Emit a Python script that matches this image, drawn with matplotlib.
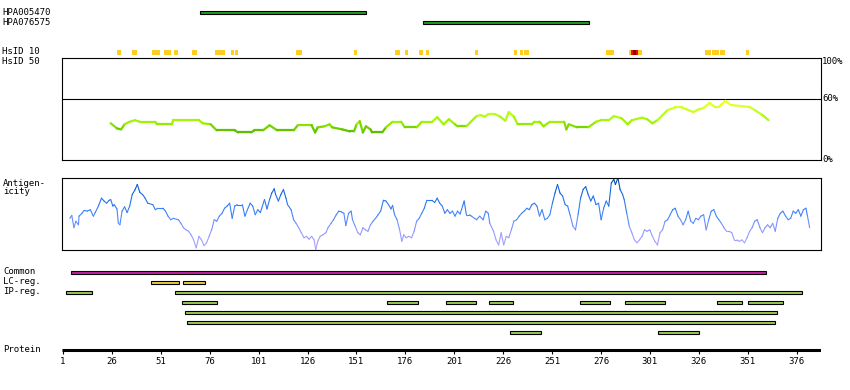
import numpy as np
import matplotlib
matplotlib.use("Agg")
import matplotlib.pyplot as plt
from matplotlib.collections import LineCollection
from matplotlib.colors import LinearSegmentedColormap, Normalize

W, H = 850, 390
PROTEIN_LEN = 388
FONT = "DejaVu Sans Mono"

# antibodies (residue ranges)
antibody_names = ["HPA005470", "HPA076575"]
antibody_start = [71, 185]
antibody_end = [156, 270]

# HsID 10 blocks
hsid10_start = [28.5, 36.5, 46.5, 52.5, 57.5, 67.0, 78.5, 87.0, 89.0, 120.0,
                150.0, 170.5, 176.0, 183.0, 186.5, 211.5, 231.5, 234.5, 236.5, 278.5,
                290.5, 329.0, 333.0, 337.0, 350.0]
hsid10_end = [30.5, 39.0, 50.5, 56.0, 60.0, 69.5, 84.0, 88.5, 90.5, 123.0,
              151.5, 173.5, 177.5, 185.0, 188.0, 213.0, 233.0, 236.0, 239.0, 282.5,
              297.0, 332.5, 336.5, 339.5, 351.5]
hsid10_red = (291.3, 294.9)
hsid10_darkred = (292.3, 293.8)

# HsID 50 (% identity)
hs50_pos = [25.4, 28.6, 30.7, 32.5, 35.1, 37.7, 40.3, 48.2, 49.0, 56.6,
            57.4, 70.5, 72.5, 76.5, 79.6, 88.8, 90.6, 97.2, 98.8, 103.2,
            106.6, 110.6, 118.9, 121.0, 128.1, 129.9, 131.2, 134.6, 137.3, 138.6,
            143.8, 147.7, 149.8, 151.1, 152.7, 154.3, 155.9, 158.2, 159.0, 164.2,
            166.1, 169.5, 173.9, 175.7, 181.8, 184.4, 189.7, 192.3, 195.6, 198.3,
            201.4, 202.7, 207.2, 212.4, 214.5, 216.6, 218.5, 221.8, 224.5, 227.1,
            228.9, 231.5, 233.4, 240.7, 242.0, 244.6, 246.7, 249.9, 257.2, 258.3,
            259.6, 263.8, 269.5, 273.5, 276.1, 280.0, 282.6, 286.5, 289.7, 291.8,
            297.0, 299.6, 302.3, 304.9, 310.1, 314.0, 317.2, 319.3, 323.2, 325.8,
            328.4, 331.6, 334.2, 336.3, 337.6, 339.7, 342.3, 346.7, 352.0, 354.6,
            358.6, 361.7]
hs50_val = [36, 31, 30, 35, 37.5, 39, 37.5, 37.5, 35, 35,
            39, 39, 36, 35, 29, 29, 27, 27, 29, 29,
            34, 29, 29, 34, 34, 27, 32, 33, 35, 32,
            30, 28, 28, 35, 38, 27, 33, 30, 27, 27,
            32, 37.5, 37.5, 32, 32, 37.5, 37.5, 42, 35, 40,
            35, 33, 33, 43, 44, 42.5, 45, 45, 42.5, 38.5,
            47, 42.5, 35, 35, 37.5, 37.5, 33, 37.5, 37.5, 30,
            35, 32, 32, 37.5, 39, 39, 43, 41, 35, 39,
            41.5, 40, 36, 39, 49, 51.5, 51.5, 50, 47, 49.5,
            51, 56, 52, 52, 54.5, 58, 54, 53, 52, 49,
            44, 39]

# antigenicity (relative score 0-100)
ag_pos = [4.5, 5.5, 6.6, 7.6, 8.9, 9.2, 10.7, 11.8, 13.4, 15.0,
          16.5, 17.5, 19.1, 20.7, 22.0, 23.3, 24.6, 25.4, 26.5, 27.2,
          28.6, 29.3, 30.1, 31.2, 32.5, 33.8, 35.1, 36.4, 37.7, 39.0,
          40.3, 41.7, 43.0, 44.3, 46.9, 48.2, 49.5, 52.1, 53.4, 54.7,
          56.1, 57.4, 60.0, 61.3, 62.6, 63.9, 65.2, 66.5, 67.8, 69.1,
          70.5, 71.8, 73.1, 74.4, 75.7, 77.0, 78.3, 79.6, 80.9, 82.3,
          83.6, 84.9, 86.2, 87.5, 88.8, 90.1, 92.7, 94.0, 95.3, 96.7,
          98.0, 99.3, 100.6, 101.9, 104.0, 105.3, 106.6, 107.7, 109.0, 109.7,
          111.1, 112.4, 113.7, 115.0, 115.8, 117.6, 118.9, 120.2, 121.5, 122.8,
          124.2, 125.5, 126.8, 128.1, 129.4, 130.2, 131.2, 132.5, 133.8, 135.4,
          136.5, 138.0, 139.3, 140.7, 142.0, 143.3, 144.6, 145.6, 147.0, 148.3,
          149.0, 150.4, 151.7, 153.0, 154.3, 155.6, 156.9, 158.2, 159.5, 160.8,
          162.1, 163.4, 164.8, 166.1, 167.4, 168.7, 169.5, 170.5, 171.8, 173.1,
          174.2, 175.2, 176.5, 177.8, 179.2, 180.5, 181.8, 183.1, 184.4, 185.7,
          187.0, 189.6, 191.0, 192.3, 193.6, 194.9, 196.2, 197.5, 198.8, 200.1,
          201.4, 202.7, 204.0, 205.3, 206.1, 207.2, 208.8, 209.8, 211.4, 212.4,
          214.0, 215.8, 217.1, 218.4, 219.2, 221.1, 222.4, 223.7, 225.0, 226.3,
          227.6, 228.9, 230.2, 231.5, 232.9, 234.2, 235.5, 236.8, 238.1, 239.4,
          240.7, 242.0, 243.3, 244.6, 245.9, 247.3, 248.6, 249.9, 251.2, 252.5,
          253.8, 255.1, 256.4, 257.7, 259.0, 260.4, 261.7, 263.0, 264.3, 265.6,
          266.9, 268.2, 269.5, 270.8, 272.1, 273.5, 274.8, 276.1, 277.4, 278.7,
          280.0, 281.3, 282.6, 283.4, 284.7, 285.8, 287.1, 287.9, 289.2, 290.5,
          291.8, 293.1, 294.4, 295.7, 297.0, 298.3, 299.6, 301.0, 302.3, 303.6,
          304.9, 306.2, 307.5, 308.8, 310.1, 311.4, 312.7, 314.0, 315.4, 316.7,
          318.0, 319.3, 320.6, 321.9, 323.2, 324.5, 325.8, 327.1, 328.5, 329.8,
          331.1, 332.4, 333.7, 335.0, 336.3, 337.6, 338.9, 340.2, 341.5, 342.9,
          344.2, 345.5, 346.8, 348.1, 349.4, 350.7, 352.0, 353.3, 354.6, 355.9,
          357.3, 358.6, 359.9, 361.2, 362.5, 363.8, 365.1, 366.4, 367.7, 369.0,
          370.4, 371.7, 373.0, 374.3, 375.6, 376.9, 378.2, 379.5, 380.8, 381.6,
          382.7]
ag_val = [44, 48, 31, 40, 35, 47, 51, 55, 54, 56,
          47, 52, 61, 72, 68, 65, 69, 70, 61, 63,
          57, 37, 35, 54, 60, 52, 61, 77, 83, 91,
          80, 77, 72, 65, 63, 56, 58, 58, 54, 47,
          42, 44, 42, 37, 31, 28, 26, 21, 14, 3,
          19, 14, 6, 10, 19, 28, 42, 40, 47, 51,
          58, 61, 65, 44, 61, 63, 63, 47, 56, 65,
          61, 49, 56, 52, 70, 57, 70, 79, 85, 77,
          68, 77, 84, 72, 63, 56, 42, 37, 31, 24,
          17, 19, 15, 19, 14, 0, 12, 19, 21, 24,
          31, 37, 42, 49, 54, 53, 51, 34, 51, 54,
          42, 33, 24, 21, 31, 28, 26, 35, 40, 44,
          49, 54, 69, 68, 63, 57, 62, 49, 42, 28,
          12, 21, 17, 19, 17, 26, 40, 44, 51, 58,
          69, 69, 66, 72, 65, 61, 51, 56, 51, 54,
          47, 54, 50, 61, 68, 49, 49, 47, 44, 42,
          47, 42, 54, 51, 37, 26, 14, 7, 24, 7,
          19, 17, 28, 40, 42, 47, 51, 54, 58, 56,
          63, 65, 61, 47, 56, 42, 44, 49, 65, 79,
          91, 79, 75, 63, 61, 47, 33, 28, 49, 72,
          84, 88, 77, 68, 75, 63, 65, 42, 58, 68,
          61, 93, 98, 91, 100, 84, 77, 70, 51, 33,
          24, 14, 10, 14, 19, 28, 26, 28, 19, 12,
          7, 24, 28, 40, 42, 49, 56, 58, 47, 42,
          35, 42, 54, 40, 37, 44, 42, 47, 49, 28,
          42, 54, 56, 47, 42, 37, 31, 26, 26, 24,
          14, 14, 12, 14, 10, 17, 26, 31, 40, 42,
          31, 24, 31, 35, 31, 37, 26, 44, 51, 54,
          47, 42, 44, 54, 51, 56, 47, 56, 58, 47,
          31]

# sequence features
common_start, common_end = 4.9, 360.2
lc_start = [46.1, 62.6]
lc_end = [60.1, 73.5]
ip_row = [0, 0, 1, 1, 1, 1, 1, 1, 1, 1, 2, 3, 4, 4]
ip_start = [2.8, 58.5, 61.6, 166.8, 196.9, 218.9, 265.4, 288.3, 335.3, 351.2,
            63.6, 64.6, 229.6, 305.2]
ip_end = [15.8, 378.9, 79.7, 182.3, 211.9, 230.8, 280.4, 308.5, 348.3, 369.2,
          366.2, 365.1, 245.6, 326.3]

tick_pos = list(range(1, 377, 25))


def px_rect(x0, y0, x1, y1):
    return [x0 / W, 1 - y1 / H, (x1 - x0) / W, (y1 - y0) / H]


def colored_line(ax, x, y, cmap, norm, lw):
    pts = np.column_stack([x, y])
    segs = np.stack([pts[:-1], pts[1:]], axis=1)
    lc = LineCollection(segs, cmap=cmap, norm=norm, linewidths=lw,
                        capstyle="round", joinstyle="round")
    lc.set_array((np.asarray(y[:-1]) + np.asarray(y[1:])) / 2)
    ax.add_collection(lc)


def label(text, x_px, y_px, **kw):
    fig.text(x_px / W, 1 - y_px / H, text, family=FONT, fontsize=6.5,
             va="center", **kw)


fig = plt.figure(figsize=(W / 100, H / 100), dpi=100)
xlim = (0.5, PROTEIN_LEN + 0.5)

# track axes: pixel rows on y, residues on x
tr = fig.add_axes(px_rect(62, 0, 821, H))
tr.set_xlim(*xlim)
tr.set_ylim(H, 0)
tr.axis("off")

bar_kw = dict(edgecolor="black", linewidth=0.8, height=3.6)
for i, (s, e) in enumerate(zip(antibody_start, antibody_end)):
    tr.barh(12.3 + 10 * i, e - s, left=s, color="#1f9e1f", **bar_kw)
    label(antibody_names[i], 2, 12.3 + 10 * i)

for s, e in zip(hsid10_start, hsid10_end):
    tr.barh(52.5, e - s, left=s, height=5, color="#ffcc22", linewidth=0)
tr.barh(52.5, hsid10_red[1] - hsid10_red[0], left=hsid10_red[0], height=5,
        color="#dd1111", linewidth=0)
tr.barh(52.5, hsid10_darkred[1] - hsid10_darkred[0], left=hsid10_darkred[0],
        height=5, color="#990000", linewidth=0)

tr.barh(272.5, common_end - common_start, left=common_start, color="#c41fa4", **bar_kw)
for s, e in zip(lc_start, lc_end):
    tr.barh(282.5, e - s, left=s, color="#e6d23c", **bar_kw)
for r, s, e in zip(ip_row, ip_start, ip_end):
    tr.barh(292.5 + 10 * r, e - s, left=s, color="#9ccb56", **bar_kw)

# protein axis
tr.hlines(350, xlim[0], xlim[1], color="black", linewidth=2.2)
tr.vlines(tick_pos, 350, 354, color="black", linewidth=0.8)
for t in tick_pos:
    tr.text(t, 362, str(t), ha="center", va="center", family=FONT, fontsize=6.5)

# HsID 50 panel
hs = fig.add_axes(px_rect(62, 58, 821, 160))
hs.set_xlim(*xlim)
hs.set_ylim(0, 100)
hs.set_facecolor("none")
hs.set_xticks([])
hs.set_yticks([])
for sp in hs.spines.values():
    sp.set_linewidth(0.8)
hs.axhline(60, color="black", linewidth=0.8)
hs_cmap = LinearSegmentedColormap.from_list(
    "hsid", [(0.0, "#55b800"), (0.15, "#66c800"), (0.3, "#99f000"),
             (0.55, "#b8ff18"), (0.8, "#e0ff30"), (1.0, "#ffff30")])
colored_line(hs, hs50_pos, hs50_val, hs_cmap, Normalize(25, 60), 1.6)
for txt, yv in [("100%", 100), ("60%", 60), ("0%", 0)]:
    label(txt, 822, 160 - yv * 1.02 + (3 if yv == 100 else 0))

# antigenicity panel
ag = fig.add_axes(px_rect(62, 178, 821, 250))
ag.set_xlim(*xlim)
ag.set_ylim(0, 100)
ag.set_facecolor("none")
ag.set_xticks([])
ag.set_yticks([])
for sp in ag.spines.values():
    sp.set_linewidth(0.8)
ag_cmap = LinearSegmentedColormap.from_list(
    "antigen", [(0.0, "#b3a6ff"), (0.3, "#8c96ff"), (0.45, "#4a88ff"),
                (0.65, "#2a78f0"), (0.85, "#0a5ed8"), (1.0, "#003a8c")])
colored_line(ag, ag_pos, ag_val, ag_cmap, Normalize(0, 100), 0.8)

# left labels
label("HsID 10", 2, 52)
label("HsID 50", 2, 62)
label("Antigen-", 3, 183)
label("icity", 3, 192)
label("Common", 3, 272)
label("LC-reg.", 3, 282)
label("IP-reg.", 3, 292)
label("Protein", 3, 349)

fig.savefig("out.png", dpi=100)
